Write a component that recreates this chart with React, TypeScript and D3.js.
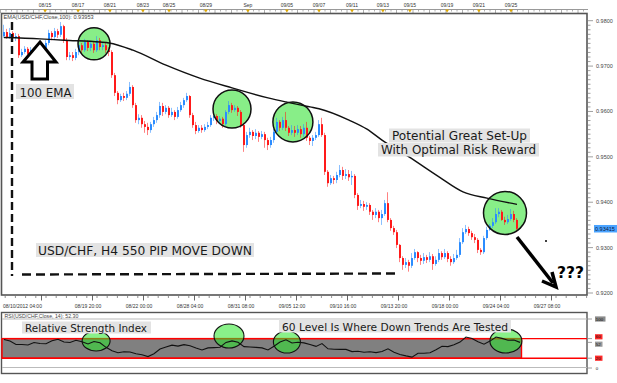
import React from "react";
import * as d3 from "d3";

// ---- data (USD/CHF H4) ----
const closes = [
  0.9775, 0.9764, 0.9773, 0.9762, 0.9766, 0.9724, 0.9731, 0.9738, 0.9727, 0.9735,
  0.9724, 0.9731, 0.9742, 0.9735, 0.9751, 0.9773, 0.9764, 0.9777, 0.9769, 0.9788,
  0.9757, 0.972, 0.9724, 0.9718, 0.9731, 0.9746, 0.9735, 0.9753, 0.974, 0.9749,
  0.9735, 0.9757, 0.9742, 0.9746, 0.9735, 0.9731, 0.968, 0.9641, 0.9625, 0.9634,
  0.963, 0.9639, 0.9654, 0.9614, 0.9581, 0.9586, 0.9572, 0.9566, 0.9559, 0.9572,
  0.9581, 0.9592, 0.9612, 0.9599, 0.9608, 0.9592, 0.9599, 0.9588, 0.9603, 0.9614,
  0.9625, 0.9634, 0.9592, 0.957, 0.9557, 0.9564, 0.9559, 0.9566, 0.957, 0.9586,
  0.959, 0.9579, 0.9584, 0.9572, 0.9599, 0.9614, 0.9603, 0.9608, 0.9599, 0.957,
  0.9526, 0.9548, 0.9555, 0.9546, 0.9553, 0.9544, 0.955, 0.9537, 0.9526, 0.9537,
  0.9555, 0.9577, 0.9564, 0.9581, 0.9564, 0.9553, 0.9559, 0.9553, 0.9561, 0.955,
  0.9564, 0.9542, 0.9535, 0.9542, 0.9548, 0.9572, 0.9548, 0.9467, 0.9442, 0.9453,
  0.9449, 0.946, 0.9471, 0.9458, 0.9462, 0.9455, 0.9458, 0.9416, 0.9392, 0.9396,
  0.939, 0.9394, 0.9379, 0.9372, 0.9379, 0.9365, 0.9374, 0.9398, 0.9361, 0.9343,
  0.9334, 0.9306, 0.9277, 0.9262, 0.9268, 0.926, 0.9277, 0.929, 0.9277, 0.9271,
  0.9279, 0.9273, 0.9281, 0.9264, 0.9273, 0.9288, 0.9279, 0.9288, 0.9275, 0.9268,
  0.9277, 0.9284, 0.9312, 0.9334, 0.9341, 0.9332, 0.9323, 0.9317, 0.9295, 0.929,
  0.9321, 0.9339, 0.9348, 0.9356, 0.9374, 0.9379, 0.9361, 0.9356, 0.9363, 0.9374,
  0.9361, 0.93415,
];
const highs = [
  0.9791, 0.9782, 0.9784, 0.9777, 0.9773, 0.9771, 0.9738, 0.9744, 0.9742, 0.9742,
  0.974, 0.9735, 0.9749, 0.9746, 0.9757, 0.978, 0.9777, 0.9784, 0.9782, 0.9797,
  0.9791, 0.9762, 0.9731, 0.9731, 0.9738, 0.9753, 0.9751, 0.976, 0.9757, 0.9755,
  0.9753, 0.9766, 0.9762, 0.9753, 0.9751, 0.9742, 0.9735, 0.9685, 0.9645, 0.9639,
  0.9641, 0.9645, 0.9665, 0.9658, 0.9619, 0.9594, 0.9592, 0.9579, 0.9575, 0.9577,
  0.9588, 0.9599, 0.9621, 0.9619, 0.9614, 0.9612, 0.9608, 0.9603, 0.961, 0.9621,
  0.963, 0.9641, 0.9636, 0.9597, 0.9577, 0.957, 0.957, 0.9572, 0.9577, 0.9592,
  0.9597, 0.9594, 0.959, 0.9588, 0.9603, 0.9623, 0.9619, 0.9614, 0.9612, 0.9603,
  0.9575, 0.9555, 0.9564, 0.9559, 0.9561, 0.9557, 0.9557, 0.9555, 0.9542, 0.9544,
  0.9561, 0.9586, 0.9581, 0.9588, 0.9599, 0.9568, 0.957, 0.9568, 0.957, 0.9568,
  0.9572, 0.9577, 0.9546, 0.9548, 0.9555, 0.9581, 0.9586, 0.9553, 0.9471, 0.946,
  0.9458, 0.9467, 0.9482, 0.9478, 0.9473, 0.9471, 0.9469, 0.9462, 0.942, 0.9405,
  0.9403, 0.94, 0.9398, 0.9383, 0.9387, 0.9383, 0.9383, 0.9405, 0.9422, 0.9365,
  0.9348, 0.9339, 0.9308, 0.9281, 0.9277, 0.9273, 0.9288, 0.9297, 0.9292, 0.9284,
  0.9288, 0.9284, 0.929, 0.9286, 0.9281, 0.9297, 0.9292, 0.9297, 0.9292, 0.9281,
  0.9286, 0.9295, 0.9321, 0.9343, 0.935, 0.9346, 0.9337, 0.933, 0.9321, 0.9299,
  0.9326, 0.9346, 0.9352, 0.9365, 0.9387, 0.9387, 0.9383, 0.9368, 0.9372, 0.9385,
  0.9381, 0.9365,
];
const lows = [
  0.9762, 0.976, 0.976, 0.9757, 0.9755, 0.9718, 0.972, 0.9727, 0.972, 0.9722,
  0.9718, 0.972, 0.9727, 0.9729, 0.9731, 0.9746, 0.9757, 0.976, 0.9762, 0.9764,
  0.9751, 0.9713, 0.9713, 0.9711, 0.9713, 0.9724, 0.9729, 0.9731, 0.9733, 0.9733,
  0.9729, 0.9731, 0.9735, 0.9735, 0.9729, 0.9722, 0.9674, 0.9634, 0.9616, 0.9621,
  0.9623, 0.9625, 0.9634, 0.9608, 0.9575, 0.9572, 0.9564, 0.9553, 0.9548, 0.9553,
  0.9566, 0.9575, 0.9586, 0.959, 0.9594, 0.9586, 0.9588, 0.9581, 0.9584, 0.9599,
  0.9608, 0.9621, 0.9586, 0.9564, 0.955, 0.9553, 0.9553, 0.9555, 0.9561, 0.9566,
  0.9579, 0.9572, 0.9572, 0.9564, 0.9568, 0.9594, 0.9597, 0.9599, 0.959, 0.9564,
  0.9511, 0.952, 0.9542, 0.9537, 0.9539, 0.9533, 0.9539, 0.952, 0.9515, 0.952,
  0.9531, 0.955, 0.9557, 0.9559, 0.9557, 0.9546, 0.9548, 0.9544, 0.9548, 0.9542,
  0.9544, 0.9535, 0.9526, 0.9524, 0.9537, 0.9544, 0.9544, 0.946, 0.9434, 0.9438,
  0.944, 0.9442, 0.9455, 0.9449, 0.9451, 0.9447, 0.9438, 0.9409, 0.9383, 0.9387,
  0.9381, 0.9383, 0.9372, 0.9361, 0.9365, 0.9356, 0.935, 0.937, 0.9356, 0.9337,
  0.9328, 0.9299, 0.9268, 0.9251, 0.9255, 0.9247, 0.9255, 0.9273, 0.9268, 0.9262,
  0.9264, 0.9266, 0.9268, 0.9251, 0.926, 0.9268, 0.9273, 0.9275, 0.9268, 0.926,
  0.9264, 0.9273, 0.9279, 0.9308, 0.933, 0.9326, 0.9317, 0.931, 0.9288, 0.9284,
  0.9286, 0.9317, 0.9337, 0.9343, 0.9352, 0.9367, 0.9359, 0.935, 0.9352, 0.9359,
  0.9356, 0.9334,
];
const firstOpen = 0.9766;
const opens = [firstOpen, ...closes.slice(0, -1)];

const emaIdx = [0, 12, 20, 32, 35, 43, 54, 65, 76, 88, 94, 102, 105, 115, 121, 126, 135, 145, 153, 161, 171];
const emaVal = [0.9763, 0.976, 0.9757, 0.9753, 0.9751, 0.9735, 0.9702, 0.9674, 0.9652, 0.963, 0.9621, 0.961, 0.9606, 0.9581, 0.9561, 0.9537, 0.95, 0.9456, 0.9423, 0.9409, 0.93953];

const rsiValues = [
  58.0, 55.1, 48.0, 48.0, 46.9, 52.0, 50.0, 49.6, 55.7, 58.6, 53.1, 52.0, 56.7, 53.5, 49.0,
  54.1, 51.6, 42.2, 35.3, 31.2, 33.1, 32.7, 29.0, 26.9, 23.3, 29.2, 38.8, 42.7, 46.7, 44.7,
  47.6, 45.3, 40.8, 36.9, 41.0, 41.6, 42.4, 52.2, 55.3, 52.4, 43.7, 42.9, 42.0, 41.0, 36.7,
  44.5, 53.1, 57.6, 51.0, 52.4, 51.2, 48.0, 44.1, 49.8, 39.2, 38.4, 38.0, 38.0, 33.5, 34.3,
  32.2, 33.3, 31.4, 33.5, 39.2, 32.2, 27.6, 24.7, 22.2, 30.2, 30.2, 31.2, 37.3, 44.3, 43.7,
  47.3, 52.9, 63.1, 60.4, 53.5, 48.6, 54.9, 63.1, 60.4, 56.7, 57.1, 52.3,
];
const rsiIdx = rsiValues.map((_, k) => (k < 86 ? k * 2 : 172));
const rsiLevels = [60, 20];

const priceTicks = [0.98, 0.97, 0.96, 0.95, 0.94, 0.93, 0.92];
const priceLabels = ["0.9800", "0.9700", "0.9600", "0.9500", "0.9400", "0.9300", "0.9200"];
const lastPrice = 0.93415;

const topDates = ["08/15", "08/17", "08/21", "08/23", "08/25", "08/29", "Sep", "09/05", "09/07", "09/11", "09/13", "09/15", "09/19", "09/21", "09/25"];
const topDateIdx = [13.7, 24.7, 35.3, 46.3, 55, 67.3, 81.3, 94.3, 105, 116, 126.3, 135.3, 147.7, 158.3, 169];
const bottomDates = ["08/10/2012 04:00", "08/19 20:00", "08/22 00:00", "08/28 04:00", "08/31 08:00", "09/05 12:00", "09/10 16:00", "09/13 20:00", "09/18 00:00", "09/24 04:00", "09/27 08:00"];
const bottomDateIdx = [0, 28, 45, 62, 79, 96, 113, 130, 147, 164, 181];

// annotation circles (bar index, price, radius)
const circleIdx = [30, 76, 96.3, 167];
const circlePrice = [0.9749, 0.96055, 0.9577, 0.93765];
const circleR = [16, 19, 20, 21.5];
const rsiEllIdx = [30.7, 75, 94.3, 167.3];
const rsiEllVal = [55.1, 65.3, 53, 55.1];
const rsiEllRx = [14, 15, 13.5, 16];
const rsiEllRy = [10, 12, 11, 12];

const rsiAxisLabels = ["100", "60", "52", "20", "0"];
const rsiAxisValues = [100, 60, 52.3, 20, 0];
const rsiAxisFill = ["#8a8a8a", "#ff2a2a", "#9a9a9a", "#ff2a2a", "#ffffff"];
const rsiAxisShift = [0, -1.8, 1.8, 0, 0];

const UP = "#2b8cff";
const DOWN = "#ff1a1a";
const ANN_FONT = "'DejaVu Sans', Verdana, sans-serif";
const AX_FONT = "'Liberation Sans', Arial, sans-serif";

export default function App() {
  const x = d3.scaleLinear().domain([0, 171]).range([4, 517]);
  const y = d3.scaleLinear().domain([0.92, 0.98]).range([293, 20.7]);
  const yr = d3.scaleLinear().domain([0, 100]).range([368, 319]);

  const emaLine = d3
    .line<number>()
    .x((_, i) => x(emaIdx[i]))
    .y((d) => y(d))
    .curve(d3.curveMonotoneX)(emaVal) as string;

  const rsiLine = d3
    .line<number>()
    .x((_, i) => x(rsiIdx[i]))
    .y((d) => yr(d))(rsiValues) as string;

  const minorPrice = d3.range(0.92, 0.9805, 0.001);
  const topMinor = d3.range(0, 587, 5.5);
  const bottomMinor = d3.range(-3, 195, 3.4);
  const bottomMajor = d3.range(12.5, 190, 17);

  const textBox = (
    label: string,
    bx: number,
    by: number,
    bw: number,
    bh: number,
    tx: number,
    ty: number,
    size: number,
    tl: number,
    key: string
  ) => (
    <g key={key}>
      <rect x={bx} y={by} width={bw} height={bh} fill="#e3e3e3" />
      <text x={tx} y={ty} fontSize={size} fontFamily={ANN_FONT} fill="#1a1a1a" textLength={tl} lengthAdjust="spacingAndGlyphs">
        {label}
      </text>
    </g>
  );

  return (
    <svg
      width={617}
      height={383}
      viewBox="0 0 617 383"
      style={{ position: "absolute", left: 0, top: 0, background: "#fff", display: "block" }}
    >
      <rect x={0} y={0} width={617} height={383} fill="#fff" />

      {/* top date strip */}
      <line x1={0} x2={588} y1={9.5} y2={9.5} stroke="#999" strokeWidth={1} />
      {topMinor.map((t, i) => (
        <line key={"tm" + i} x1={t + 0.5} x2={t + 0.5} y1={9.5} y2={i % 3 === 0 ? 13 : 11.5} stroke="#999" strokeWidth={0.8} />
      ))}
      {topDates.map((d, i) => (
        <g key={"td" + i}>
          <path
            d={`M${x(topDateIdx[i]) - 2},9.5 L${x(topDateIdx[i]) + 2},9.5 L${x(topDateIdx[i])},12.5 Z`}
            fill="#e0a800"
          />
          <text x={x(topDateIdx[i])} y={6.5} fontSize={5} fontFamily={AX_FONT} fill="#333" textAnchor="middle">
            {d}
          </text>
        </g>
      ))}

      {/* main frame */}
      <rect x={1.5} y={13.5} width={585.5} height={281.5} fill="#fff" stroke="#555" strokeWidth={1.6} />

      {/* right price axis */}
      {minorPrice.map((p, i) => (
        <line key={"mp" + i} x1={588} x2={i % 10 === 0 ? 593 : 590.5} y1={y(p)} y2={y(p)} stroke="#888" strokeWidth={0.8} />
      ))}
      {priceTicks.map((p, i) => (
        <text key={"pl" + i} x={596} y={y(p) + 2} fontSize={5.5} fontFamily={AX_FONT} fill="#444">
          {priceLabels[i]}
        </text>
      ))}
      <rect x={594} y={y(lastPrice) - 3.8} width={23} height={7.5} fill="#4aa3ff" />
      <text x={595} y={y(lastPrice) + 2} fontSize={5.5} fontFamily={AX_FONT} fill="#0a1a40">
        {lastPrice.toFixed(5)}
      </text>

      <text x={3.5} y={18.5} fontSize={5.6} fontFamily={AX_FONT} fill="#444">
        EMA(USD/CHF,Close,100): 0.93953
      </text>

      {/* green circles fill (under candles) */}
      {circleIdx.map((ci, i) => (
        <circle key={"cf" + i} cx={x(ci)} cy={y(circlePrice[i])} r={circleR[i]} fill="#88ee88" />
      ))}

      {/* candles */}
      {closes.map((c, i) => {
        const o = opens[i];
        const col = c >= o ? UP : DOWN;
        const top = y(Math.max(o, c));
        const bot = y(Math.min(o, c));
        return (
          <g key={"c" + i}>
            <line x1={x(i) - 0.5} x2={x(i) - 0.5} y1={y(highs[i])} y2={y(lows[i])} stroke={col} strokeOpacity={0.55} strokeWidth={1} />
            <rect x={x(i) - 1} y={top} width={2} height={Math.max(1, bot - top)} fill={col} />
          </g>
        );
      })}

      {/* EMA */}
      <path d={emaLine} fill="none" stroke="#111" strokeWidth={1.4} />

      {/* circle outlines */}
      {circleIdx.map((ci, i) => (
        <circle key={"co" + i} cx={x(ci)} cy={y(circlePrice[i])} r={circleR[i]} fill="none" stroke="#111" strokeWidth={1.5} />
      ))}

      {/* dashed guides */}
      <line x1={12} x2={12} y1={22} y2={276} stroke="#111" strokeWidth={2.4} strokeDasharray="8,4" />
      <line x1={22} x2={400} y1={274.5} y2={273.5} stroke="#111" strokeWidth={2.4} strokeDasharray="9,5" />

      {/* up arrow to EMA */}
      <path d="M40,42 L56,62 L47.5,62 L47.5,79 L32,79 L32,62 L23,62 Z" fill="#fff" stroke="#000" strokeWidth={3} strokeLinejoin="miter" />

      {textBox("100 EMA", 16, 84, 58, 15, 19.5, 96.5, 13, 52, "t1")}
      {textBox("USD/CHF, H4 550 PIP MOVE DOWN", 36, 243, 218, 14, 38, 255, 12.5, 214, "t2")}
      {textBox("Potential Great Set-Up", 389, 128.5, 141, 14, 392, 140, 11.5, 135, "t3")}
      {textBox("With Optimal Risk Reward", 378, 143, 161, 13.5, 381, 154, 11.5, 155, "t4")}

      {/* big arrow */}
      <path d="M517,237 L553,283" stroke="#000" strokeWidth={3.5} fill="none" />
      <path d="M542,281 L556,287 L552,272" stroke="#000" strokeWidth={3.5} fill="none" strokeLinejoin="miter" />
      <circle cx={546} cy={241} r={1} fill="#000" />
      <text x={557} y={277.5} fontSize={15} fontWeight="bold" fontFamily={ANN_FONT} fill="#000" textLength={27} lengthAdjust="spacingAndGlyphs">
        ???
      </text>

      {/* bottom time axis */}
      {bottomMinor.map((b, i) => (
        <line key={"bm" + i} x1={x(b)} x2={x(b)} y1={295} y2={298} stroke="#777" strokeWidth={0.8} />
      ))}
      {bottomMajor.map((b, i) => (
        <line key={"bj" + i} x1={x(b)} x2={x(b)} y1={295} y2={300.5} stroke="#555" strokeWidth={0.9} />
      ))}
      {bottomDates.map((d, i) => (
        <text
          key={"bd" + i}
          x={i === 0 ? 3 : x(bottomDateIdx[i])}
          y={308}
          fontSize={5}
          fontFamily={AX_FONT}
          fill="#333"
          textAnchor={i === 0 ? "start" : "middle"}
        >
          {d}
        </text>
      ))}

      {/* RSI panel */}
      <rect x={1.5} y={312.5} width={585.5} height={61} fill="#fff" stroke="#555" strokeWidth={1.4} />
      <line x1={2} x2={587} y1={yr(100)} y2={yr(100)} stroke="#bbb" strokeWidth={1} />
      <line x1={2} x2={587} y1={yr(0) - 0.5} y2={yr(0) - 0.5} stroke="#bbb" strokeWidth={1} />
      <text x={4.5} y={317.6} fontSize={5.2} fontFamily={AX_FONT} fill="#444">
        RSI(USD/CHF,Close, 14): 52.30
      </text>
      <rect
        x={2}
        y={yr(rsiLevels[0])}
        width={x(172.5) - 2}
        height={yr(rsiLevels[1]) - yr(rsiLevels[0])}
        fill="#808080"
        stroke="#ff0000"
        strokeWidth={1.4}
      />
      {rsiLevels.map((lv, i) => (
        <line key={"rl" + i} x1={2} x2={587} y1={yr(lv)} y2={yr(lv)} stroke="#ff0000" strokeWidth={1.4} />
      ))}
      {rsiEllIdx.map((ei, i) => (
        <ellipse
          key={"re" + i}
          cx={x(ei)}
          cy={yr(rsiEllVal[i])}
          rx={rsiEllRx[i]}
          ry={rsiEllRy[i]}
          fill="rgb(40,230,40)"
          fillOpacity={0.55}
          stroke="#111"
          strokeWidth={1.1}
        />
      ))}
      <path d={rsiLine} fill="none" stroke="#111" strokeWidth={1.1} />

      {textBox("Relative Strength Index", 22, 321.5, 129, 12, 25, 331.5, 11, 122, "t5")}
      {textBox("60 Level Is Where Down Trends Are Tested", 279, 319.5, 232, 13, 282, 330.5, 11, 226, "t6")}

      {/* RSI right labels */}
      {rsiAxisLabels.map((t, i) => {
        const cy = yr(rsiAxisValues[i]) + rsiAxisShift[i];
        return (
          <g key={"rlab" + i}>
            <line x1={588} x2={592} y1={yr(rsiAxisValues[i])} y2={yr(rsiAxisValues[i])} stroke="#888" strokeWidth={0.8} />
            <rect x={595} y={cy - 2.6} width={t.length * 3 + 1.5} height={5.2} fill={rsiAxisFill[i]} />
            <text x={595.8} y={cy + 1.6} fontSize={4.4} fontFamily={AX_FONT} fill="#111">
              {t}
            </text>
          </g>
        );
      })}
    </svg>
  );
}
